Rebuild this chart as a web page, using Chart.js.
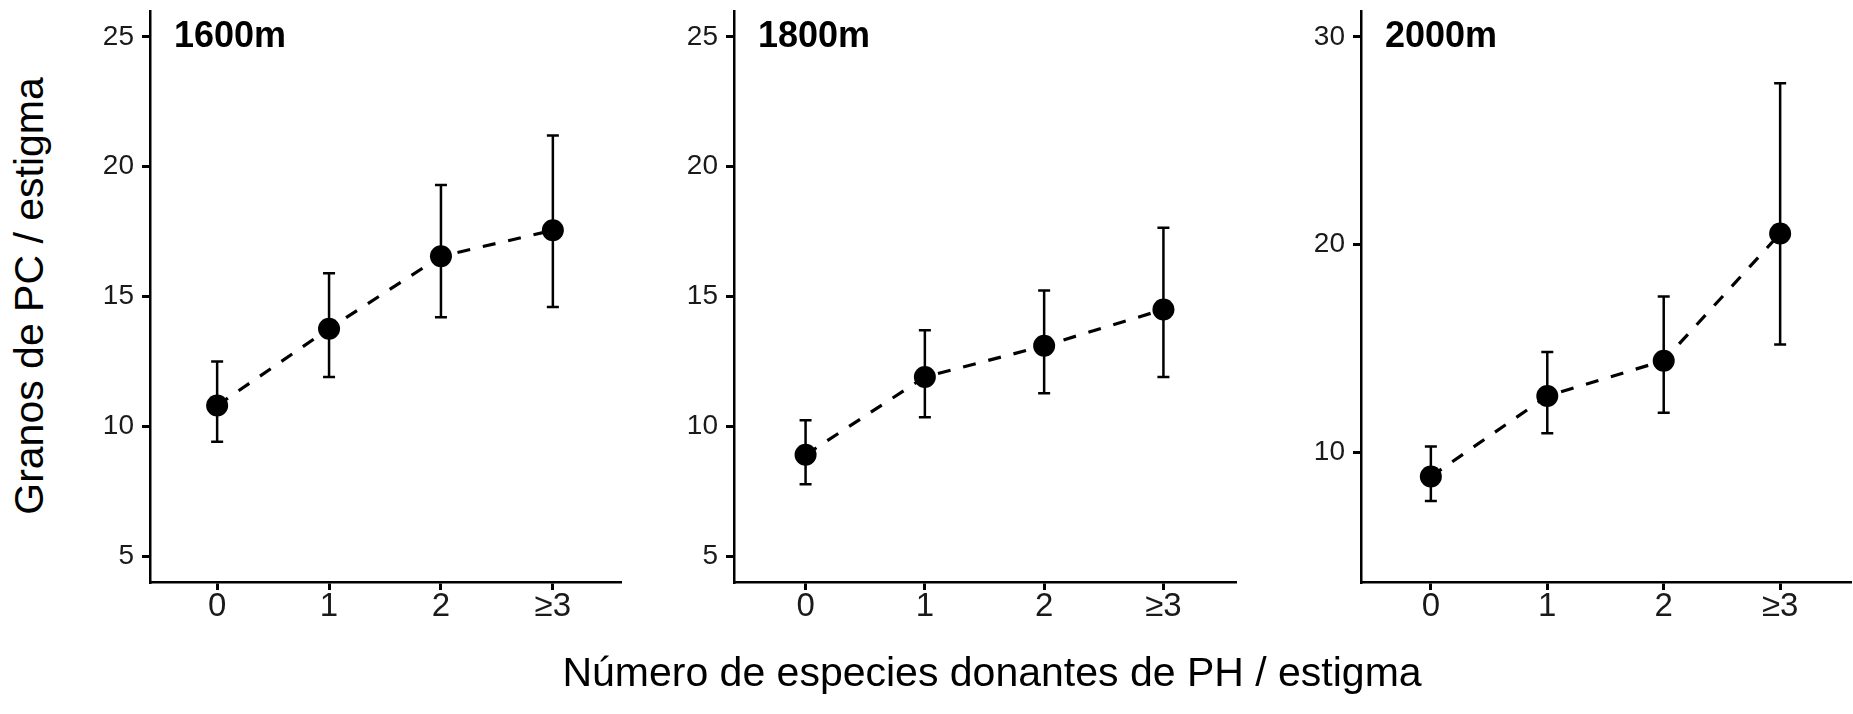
<!DOCTYPE html>
<html>
<head>
<meta charset="utf-8">
<script src="https://cdn.jsdelivr.net/npm/chart.js@4.4.1/dist/chart.umd.min.js"></script>
<style>
  body { margin: 0; background: #fff; }
  #wrap { position: relative; width: 1853px; height: 714px; overflow: hidden; font-family: "Liberation Sans", Arial, sans-serif; color: #000; }
  .panel { position: absolute; top: 0; }
  #ytitle { position: absolute; left: 29px; top: 296px; font-size: 41px; line-height: 1; white-space: nowrap; transform: translate(-50%, -50%) rotate(-90deg); }
  #xtitle { position: absolute; left: 992px; top: 652px; font-size: 41px; line-height: 1; white-space: nowrap; transform: translateX(-50%); }
</style>
</head>
<body>
<div id="wrap">
  <div class="panel" style="left:60px"><canvas id="c1600" width="571" height="714"></canvas></div>
  <div class="panel" style="left:644px"><canvas id="c1800" width="602" height="714"></canvas></div>
  <div class="panel" style="left:1271px"><canvas id="c2000" width="590" height="714"></canvas></div>
  <div id="ytitle">Granos de PC / estigma</div>
  <div id="xtitle">Número de especies donantes de PH / estigma</div>
</div>
<script>
// categorias del eje x
const xLabels = ['0', '1', '2', '≥3'];

// medias y limites de las barras de error por altitud
const mean1600 = [10.8, 13.76, 16.55, 17.55];
const low1600  = [9.4, 11.9, 14.2, 14.6];
const high1600 = [12.5, 15.9, 19.3, 21.2];

const mean1800 = [8.9, 11.9, 13.1, 14.5];
const low1800  = [7.77, 10.35, 11.27, 11.9];
const high1800 = [10.23, 13.7, 15.23, 17.65];

const mean2000 = [8.83, 12.71, 14.41, 20.53];
const low2000  = [7.65, 10.91, 11.9, 15.19];
const high2000 = [10.27, 14.83, 17.5, 27.77];

// marcas del eje y
const yTicksA = [5, 10, 15, 20, 25];
const yTicksB = [10, 20, 30];

const FONT = '"Liberation Sans", Arial, sans-serif';

// barras de error verticales con tapas
const errorBars = {
    id: 'errorBars',
    beforeDatasetsDraw(chart, args, opts) {
        const { ctx, scales: { x, y } } = chart;
        ctx.save();
        ctx.strokeStyle = '#000';
        ctx.lineWidth = 2.5;
        opts.low.forEach((lo, i) => {
            const px = x.getPixelForValue(i);
            const yLo = y.getPixelForValue(lo);
            const yHi = y.getPixelForValue(opts.high[i]);
            ctx.beginPath();
            ctx.moveTo(px, yLo); ctx.lineTo(px, yHi);
            ctx.moveTo(px - 6, yLo); ctx.lineTo(px + 6, yLo);
            ctx.moveTo(px - 6, yHi); ctx.lineTo(px + 6, yHi);
            ctx.stroke();
        });
        ctx.restore();
    }
};

// etiqueta de altitud dentro del panel
const panelLabel = {
    id: 'panelLabel',
    afterDraw(chart, args, opts) {
        const { ctx, chartArea } = chart;
        ctx.save();
        ctx.font = 'bold 36px ' + FONT;
        ctx.fillStyle = '#000';
        ctx.textBaseline = 'alphabetic';
        ctx.fillText(opts.text, chartArea.left + 24, 47);
        ctx.restore();
    }
};

function createChart(id, title, means, low, high, yMin, yMax, yTicks) {
    const ctx = document.getElementById(id).getContext('2d');
    return new Chart(ctx, {
        type: 'line',
        data: {
            datasets: [{
                data: means.map((v, i) => ({ x: i, y: v })),
                borderColor: '#000',
                borderWidth: 3.2,
                borderDash: [13, 13],
                pointRadius: 11,
                pointBackgroundColor: '#000',
                pointBorderWidth: 0,
                tension: 0
            }]
        },
        options: {
            responsive: false,
            animation: false,
            devicePixelRatio: 1,
            layout: { padding: { top: 11, right: 0, bottom: 0, left: 0 } },
            plugins: {
                legend: { display: false },
                tooltip: { enabled: false },
                errorBars: { low: low, high: high },
                panelLabel: { text: title }
            },
            scales: {
                x: {
                    type: 'linear',
                    min: -0.6,
                    max: 3.6,
                    afterBuildTicks: s => { s.ticks = xLabels.map((l, i) => ({ value: i })); },
                    afterFit: s => { s.height = 132; s.paddingLeft = 0; s.paddingRight = 0; },
                    border: { display: true, color: '#000', width: 2.5 },
                    grid: { drawOnChartArea: false, color: '#000', lineWidth: 3, tickLength: 8 },
                    ticks: {
                        padding: -3,
                        color: '#1a1a1a',
                        font: { family: FONT, size: 33 },
                        callback: v => xLabels[v]
                    }
                },
                y: {
                    min: yMin,
                    max: yMax,
                    afterBuildTicks: s => { s.ticks = yTicks.map(v => ({ value: v })); },
                    afterFit: s => { s.width = 90; s.paddingTop = 0; s.paddingBottom = 0; },
                    border: { display: true, color: '#000', width: 2.5 },
                    grid: { drawOnChartArea: false, color: '#000', lineWidth: 3, tickLength: 8 },
                    ticks: {
                        padding: 8,
                        color: '#1a1a1a',
                        font: { family: FONT, size: 28 }
                    }
                }
            }
        },
        plugins: [errorBars, panelLabel]
    });
}

createChart('c1600', '1600m', mean1600, low1600, high1600, 4, 26, yTicksA);
createChart('c1800', '1800m', mean1800, low1800, high1800, 4, 26, yTicksA);
createChart('c2000', '2000m', mean2000, low2000, high2000, 3.75, 31.25, yTicksB);
</script>
</body>
</html>
